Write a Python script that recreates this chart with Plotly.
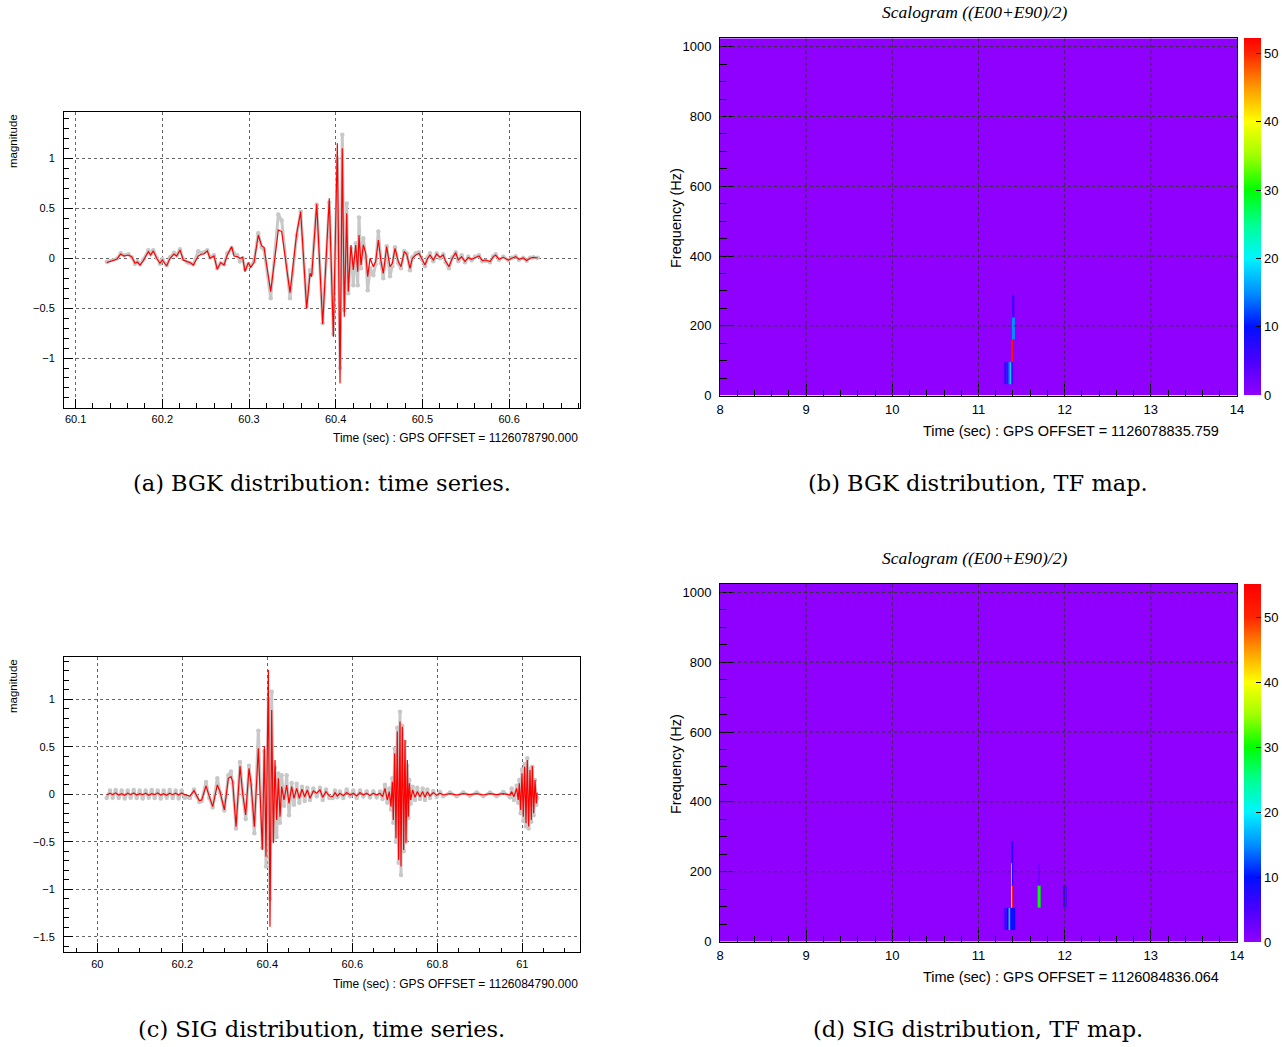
import plotly.graph_objects as go

W, H = 1282, 1047

# ---------------- (a) BGK time series ----------------
A_T = [60.1359, 60.1474, 60.1520, 60.1558, 60.1608, 60.1647, 60.1685, 60.1712, 60.1743, 60.1781,
       60.1839, 60.1866, 60.1896, 60.1935, 60.1973, 60.2000, 60.2050, 60.2089, 60.2135, 60.2166,
       60.2204, 60.2242, 60.2288, 60.2320, 60.2358, 60.2415, 60.2454, 60.2481, 60.2519, 60.2550,
       60.2596, 60.2634, 60.2673, 60.2712, 60.2750, 60.2800, 60.2827, 60.2865, 60.2896, 60.2927,
       60.2954, 60.2992, 60.3019, 60.3058, 60.3107, 60.3146, 60.3173, 60.3250, 60.3338, 60.3377,
       60.3473, 60.3550, 60.3596, 60.3665, 60.3704, 60.3723, 60.3781, 60.3850, 60.3926, 60.3973,
       60.4019, 60.4050, 60.4076, 60.4099, 60.4127, 60.4145, 60.4176, 60.4203, 60.4231, 60.4254,
       60.4269, 60.4292, 60.4319, 60.4346, 60.4369, 60.4396, 60.4434, 60.4461, 60.4492, 60.4523,
       60.4549, 60.4588, 60.4626, 60.4653, 60.4684, 60.4722, 60.4753, 60.4791, 60.4819, 60.4857,
       60.4884, 60.4923, 60.4961, 60.4992, 60.5030, 60.5061, 60.5088, 60.5126, 60.5165, 60.5203,
       60.5241, 60.5269, 60.5307, 60.5345, 60.5384, 60.5414, 60.5453, 60.5491, 60.5529, 60.5568,
       60.5607, 60.5653, 60.5691, 60.5730, 60.5780, 60.5818, 60.5845, 60.5884, 60.5933, 60.5991,
       60.6030, 60.6076, 60.6114, 60.6164, 60.6203, 60.6241, 60.6279, 60.6330]

A_RED = [-0.043, -0.010, 0.043, 0.023, 0.033, 0.017, -0.050, -0.037, -0.067, -0.023,
         0.067, 0.033, 0.074, 0.000, -0.050, -0.017, -0.077, 0.000, 0.043, 0.023,
         0.084, -0.017, -0.033, -0.043, -0.067, 0.023, 0.043, 0.043, 0.074, 0.000,
         0.023, -0.110, -0.043, -0.067, 0.033, 0.117, 0.023, 0.017, 0.000, 0.010,
         -0.134, -0.043, -0.090, -0.043, 0.234, 0.124, 0.110, -0.334, 0.284, 0.268,
         -0.344, 0.251, 0.468, -0.502, -0.151, -0.184, 0.545, -0.659, 0.602, -0.786,
         1.154, -1.254, 1.104, -0.585, 0.452, -0.334, 0.134, -0.117, 0.134, -0.134,
         0.234, -0.067, 0.134, 0.050, -0.184, 0.000, -0.084, -0.033, 0.184, -0.033,
         -0.151, 0.117, -0.084, -0.050, 0.100, -0.033, -0.084, 0.067, 0.043, -0.100,
         0.000, 0.033, 0.050, 0.000, -0.067, 0.000, 0.033, -0.017, 0.043, 0.010,
         0.033, -0.033, -0.084, 0.000, 0.057, -0.017, 0.017, -0.033, 0.007, -0.010,
         0.007, 0.023, -0.023, -0.017, -0.033, 0.017, 0.033, -0.010, 0.010, -0.017,
         0.000, 0.017, -0.010, 0.003, -0.023, 0.000, 0.010, 0.003]

A_GRAY = [-0.035, -0.005, 0.050, 0.030, 0.040, 0.010, -0.055, -0.030, -0.060, -0.015,
          0.080, 0.040, 0.080, 0.005, -0.055, -0.010, -0.070, 0.010, 0.055, 0.030,
          0.090, -0.010, -0.040, -0.050, -0.060, 0.070, 0.050, 0.060, 0.080, 0.010,
          0.030, -0.100, -0.050, -0.060, 0.050, 0.100, 0.050, 0.030, -0.030, 0.000,
          -0.110, -0.060, -0.080, -0.030, 0.250, 0.110, 0.090, -0.400, 0.440, 0.380,
          -0.400, 0.230, 0.470, -0.480, -0.120, -0.150, 0.540, -0.650, 0.560, -0.760,
          1.000, -1.100, 1.240, -0.520, 0.550, -0.350, 0.100, -0.270, 0.150, -0.270,
          0.410, -0.100, 0.200, 0.020, -0.320, -0.100, -0.170, -0.060, 0.270, -0.050,
          -0.200, 0.120, -0.180, -0.080, 0.110, -0.050, -0.100, 0.070, 0.050, -0.120,
          0.010, 0.050, 0.060, -0.010, -0.080, 0.010, 0.050, -0.030, 0.050, 0.000,
          0.040, -0.040, -0.100, 0.010, 0.060, -0.030, 0.030, -0.040, 0.015, -0.020,
          0.015, 0.030, -0.030, -0.025, -0.040, 0.020, 0.040, -0.015, 0.015, -0.020,
          0.005, 0.020, -0.015, 0.005, -0.025, 0.005, 0.010, 0.005]

# ---------------- (c) SIG time series ----------------
C_T = [60.0220, 60.0299, 60.0362, 60.0432, 60.0503, 60.0573, 60.0644, 60.0714, 60.0785, 60.0856,
       60.0926, 60.0997, 60.1067, 60.1138, 60.1209, 60.1279, 60.1350, 60.1420, 60.1491, 60.1562,
       60.1632, 60.1703, 60.1773, 60.1844, 60.1915, 60.1985, 60.2056,
       60.2103, 60.2181, 60.2275, 60.2338, 60.2401, 60.2456, 60.2558, 60.2636, 60.2715, 60.2824,
       60.2887, 60.2989, 60.3083, 60.3146, 60.3185, 60.3264, 60.3358, 60.3420, 60.3491, 60.3569,
       60.3617, 60.3695, 60.3789, 60.3883, 60.3930, 60.3969, 60.4024, 60.4063, 60.4103, 60.4142,
       60.4181, 60.4220, 60.4260, 60.4299, 60.4338, 60.4393, 60.4456, 60.4511, 60.4573, 60.4628,
       60.4691, 60.4754, 60.4816, 60.4879, 60.4942, 60.5005, 60.5083, 60.5162, 60.5240, 60.5303,
       60.5381, 60.5460,
       60.5538, 60.5593, 60.5648, 60.5710, 60.5789, 60.5867, 60.5946, 60.6024, 60.6102, 60.6181,
       60.6259, 60.6338, 60.6416, 60.6495, 60.6573, 60.6651, 60.6714, 60.6769, 60.6824, 60.6871,
       60.6910, 60.6942, 60.6965, 60.6997, 60.7028, 60.7059, 60.7091, 60.7122, 60.7146, 60.7177,
       60.7208, 60.7240, 60.7263, 60.7295, 60.7318, 60.7342, 60.7373, 60.7420, 60.7475, 60.7530,
       60.7593, 60.7655, 60.7710, 60.7765, 60.7828, 60.7906, 60.7985, 60.8063, 60.8142, 60.8298,
       60.8455, 60.8612, 60.8769, 60.8926, 60.9083, 60.9240, 60.9397, 60.9553, 60.9710, 60.9750,
       60.9804, 60.9867, 60.9906, 60.9930, 60.9961, 60.9993, 61.0024, 61.0055, 61.0087, 61.0118,
       61.0150, 61.0181, 61.0212, 61.0236, 61.0267, 61.0299, 61.0330, 61.0353]

C_RED = [-0.007, 0.011, -0.004, 0.014, -0.007, 0.007, -0.011, 0.011, -0.004, 0.014,
         -0.007, 0.007, -0.004, 0.011, -0.011, 0.007, -0.004, 0.014, -0.007, 0.007,
         -0.011, 0.011, -0.004, 0.011, -0.007, 0.014, -0.004,
         -0.007, -0.018, 0.039, -0.007, -0.067, -0.060, 0.088, -0.025, -0.130, 0.098,
         0.028, -0.165, 0.168, 0.186, 0.133, -0.340, 0.298, 0.011, -0.218, 0.274,
         0.116, -0.340, 0.484, -0.586, 0.509, -0.656, 1.309, -1.393, 0.888, -0.516,
         0.361, -0.270, 0.168, -0.235, 0.081, -0.060, 0.098, -0.095, 0.081, -0.042,
         0.063, -0.042, 0.053, -0.025, 0.046, -0.042, 0.035, 0.011, 0.046, -0.032,
         0.028, -0.018,
         -0.025, 0.018, -0.018, 0.011, -0.014, 0.018, -0.007, 0.011, -0.018, 0.018,
         -0.007, 0.011, -0.014, 0.011, -0.007, 0.011, -0.025, 0.063, -0.060, 0.028,
         -0.130, 0.133, -0.270, 0.432, -0.463, 0.660, -0.691, 0.765, -0.761, 0.712,
         -0.586, 0.572, -0.516, 0.361, -0.235, 0.116, -0.060, 0.046, -0.032, 0.028,
         -0.025, 0.028, -0.032, 0.025, -0.018, 0.018, -0.011, 0.011, -0.007, 0.007,
         -0.007, 0.007, -0.004, 0.007, -0.007, 0.007, -0.004, 0.007, -0.007, 0.028,
         -0.025, 0.063, -0.060, 0.116, -0.165, 0.221, -0.235, 0.291, -0.305, 0.361,
         -0.340, 0.256, -0.270, 0.298, -0.200, 0.151, -0.095, 0.018]

C_GRAY = [-0.040, 0.040, -0.035, 0.045, -0.040, 0.040, -0.045, 0.040, -0.035, 0.045,
          -0.040, 0.040, -0.045, 0.040, -0.035, 0.045, -0.040, 0.040, -0.045, 0.040,
          -0.035, 0.045, -0.040, 0.040, -0.045, 0.040, -0.035,
          -0.030, -0.040, 0.050, -0.020, -0.080, -0.070, 0.130, -0.040, -0.140, 0.170,
          0.020, -0.170, 0.200, 0.240, 0.120, -0.360, 0.340, 0.000, -0.260, 0.300,
          0.100, -0.410, 0.670, -0.560, 0.450, -0.760, 1.000, -1.100, 1.080, -0.480,
          0.280, -0.450, 0.220, -0.300, 0.200, -0.120, 0.200, -0.220, 0.120, -0.110,
          0.110, -0.090, 0.080, -0.070, 0.070, -0.060, 0.060, -0.020, 0.070, -0.060,
          0.050, -0.040,
          -0.040, 0.040, -0.030, 0.030, -0.040, 0.050, -0.020, 0.040, -0.040, 0.040,
          -0.020, 0.030, -0.030, 0.030, -0.030, 0.030, -0.050, 0.100, -0.090, 0.060,
          -0.160, 0.170, -0.300, 0.480, -0.500, 0.700, -0.720, 0.870, -0.850, 0.720,
          -0.600, 0.550, -0.480, 0.300, -0.250, 0.150, -0.100, 0.080, -0.060, 0.070,
          -0.050, 0.060, -0.060, 0.050, -0.040, 0.035, -0.025, 0.025, -0.020, 0.020,
          -0.020, 0.020, -0.015, 0.020, -0.020, 0.020, -0.020, 0.025, -0.030, 0.060,
          -0.060, 0.090, -0.090, 0.150, -0.200, 0.260, -0.280, 0.320, -0.340, 0.380,
          -0.360, 0.270, -0.290, 0.290, -0.220, 0.150, -0.110, -0.040]

# ---------------- (b) BGK TF map: non-zero cells ----------------
B_T0 = [11.299, 11.326, 11.349, 11.369, 11.384, 11.380, 11.388, 11.392]
B_T1 = [11.326, 11.349, 11.369, 11.384, 11.395, 11.403, 11.419, 11.415]
B_F0 = [32, 32, 32, 32, 32, 96, 160, 224]
B_F1 = [96, 96, 96, 96, 96, 160, 224, 288]
B_V = [7, 11, 15, 22, 10, 51, 15, 7]

# ---------------- (d) SIG TF map: non-zero cells ----------------
D_T0 = [11.299, 11.326, 11.349, 11.369, 11.377, 11.388, 11.377, 11.390, 11.380, 11.686, 11.690, 11.981, 11.995, 12.012]
D_T1 = [11.326, 11.349, 11.369, 11.423, 11.388, 11.400, 11.390, 11.407, 11.407, 11.717, 11.712, 11.995, 12.012, 12.023]
D_F0 = [32, 32, 32, 32, 96, 96, 160, 160, 224, 96, 160, 96, 96, 96]
D_F1 = [96, 96, 96, 96, 160, 160, 224, 224, 288, 160, 224, 160, 160, 160]
D_V = [6, 10, 18, 9, 35, 50, 22, 8, 7, 30, 2, 5, 9, 5]

# palette (value -> colour)
PAL_V = [0, 5, 10, 15, 20, 25, 30, 35, 40, 45, 50, 55]
PAL_C = ["#9000FF", "#4A00FF", "#0010FF", "#0090FF", "#00F5FF", "#00FF90", "#00FF00",
         "#A0FF00", "#FFFF00", "#FF9800", "#FF2400", "#FF0000"]
B_ZMAX = 52.2
D_ZMAX = 55.1
CB_TICKS = [0, 10, 20, 30, 40, 50]

TF_XRANGE = [8, 14]
TF_YRANGE = [0, 1024]
A_XRANGE = [60.0866, 60.6818]
A_YRANGE = [-1.497, 1.470]
C_XRANGE = [59.9216, 61.1358]
C_YRANGE = [-1.663, 1.442]

TF_XGRID = [9, 10, 11, 12, 13]
TF_YGRID = [200, 400, 600, 800, 1000]


def fx(px):
    return px / W


def fy(py):
    return 1 - py / H


SANS = "Liberation Sans, Arial, Helvetica, sans-serif"
SERIF = "DejaVu Serif, serif"

fig = go.Figure()

GRAY = "#C8C8C8"
for t, g, r, xa, ya in [(A_T, A_GRAY, A_RED, "x", "y"), (C_T, C_GRAY, C_RED, "x3", "y3")]:
    fig.add_trace(go.Scatter(x=t, y=g, mode="lines+markers", xaxis=xa, yaxis=ya,
                             line=dict(color=GRAY, width=3), marker=dict(color=GRAY, size=4.5),
                             showlegend=False, hoverinfo="skip"))
    fig.add_trace(go.Scatter(x=t, y=r, mode="lines", xaxis=xa, yaxis=ya,
                             line=dict(color="#FF0000", width=1.2),
                             showlegend=False, hoverinfo="skip"))


def palette(zmax):
    cs = [[v / zmax, c] for v, c in zip(PAL_V, PAL_C) if v <= zmax]
    if cs[-1][0] < 1:
        cs.append([1.0, PAL_C[-1]])
    return cs


for (t0s, t1s, f0s, f1s, vs, xa, ya, ca) in [
        (B_T0, B_T1, B_F0, B_F1, B_V, "x2", "y2", "coloraxis"),
        (D_T0, D_T1, D_F0, D_F1, D_V, "x4", "y4", "coloraxis2")]:
    fig.add_trace(go.Heatmap(x=TF_XRANGE, y=TF_YRANGE, z=[[0]], coloraxis=ca,
                             xaxis=xa, yaxis=ya, hoverinfo="skip"))
    for t0, t1, f0, f1, v in zip(t0s, t1s, f0s, f1s, vs):
        fig.add_trace(go.Heatmap(x=[t0, t1], y=[f0, f1], z=[[v]], coloraxis=ca,
                                 xaxis=xa, yaxis=ya, hoverinfo="skip"))


def ts_xaxis(dom, rng, dtick, tick0, minor_dtick, anchor):
    return dict(domain=dom, range=rng, anchor=anchor, dtick=dtick, tick0=tick0,
                ticks="inside", ticklen=9, tickcolor="black", tickwidth=1,
                minor=dict(dtick=minor_dtick, tick0=tick0, ticks="inside", ticklen=4.5,
                           tickcolor="black", showgrid=False),
                showline=True, linecolor="black", linewidth=1, mirror=True,
                showgrid=True, gridcolor="#666666", griddash="dot", gridwidth=1,
                zeroline=False, ticklabelstandoff=1,
                tickfont=dict(family=SANS, size=11, color="black"))


def ts_yaxis(dom, rng, anchor):
    return dict(domain=dom, range=rng, anchor=anchor, dtick=0.5, tick0=0,
                ticks="inside", ticklen=9, tickcolor="black", tickwidth=1,
                minor=dict(dtick=0.1, tick0=0, ticks="inside", ticklen=4.5,
                           tickcolor="black", showgrid=False),
                showline=True, linecolor="black", linewidth=1, mirror=True,
                showgrid=True, gridcolor="#666666", griddash="dot", gridwidth=1,
                zeroline=False, ticklabelstandoff=6,
                tickfont=dict(family=SANS, size=11, color="black"))


def tf_xaxis(dom, anchor):
    return dict(domain=dom, range=TF_XRANGE, anchor=anchor, dtick=1, tick0=8,
                ticks="inside", ticklen=12, tickcolor="black",
                minor=dict(dtick=0.2, tick0=8, ticks="inside", ticklen=6, tickcolor="black"),
                showline=True, linecolor="black", linewidth=1, mirror=True,
                showgrid=False, zeroline=False, layer="above traces", ticklabelstandoff=2,
                tickfont=dict(family=SANS, size=13, color="black"))


def tf_yaxis(dom, anchor):
    return dict(domain=dom, range=TF_YRANGE, anchor=anchor, dtick=200, tick0=0,
                ticks="inside", ticklen=14, tickcolor="black",
                minor=dict(dtick=50, tick0=0, ticks="inside", ticklen=7, tickcolor="black"),
                showline=True, linecolor="black", linewidth=1, mirror=True,
                showgrid=False, zeroline=False, layer="above traces", ticklabelstandoff=5,
                tickfont=dict(family=SANS, size=13, color="black"))


def colorbar(top, bottom):
    return dict(x=fx(1244), xanchor="left", xpad=0, y=fy(top), yanchor="top", ypad=0,
                len=bottom - top, lenmode="pixels", thickness=17, thicknessmode="pixels",
                outlinewidth=0, tickvals=CB_TICKS, ticks="inside", ticklen=5,
                tickcolor="black", tickfont=dict(family=SANS, size=13, color="black"))


fig.update_layout(
    width=W, height=H, autosize=False,
    margin=dict(l=0, r=0, t=0, b=0, pad=0, autoexpand=False),
    paper_bgcolor="white", plot_bgcolor="white",
    font=dict(family=SANS, color="black"),
    showlegend=False,
    xaxis=ts_xaxis([fx(64), fx(580)], A_XRANGE, 0.1, 60.1, 0.02, "y"),
    yaxis=ts_yaxis([fy(407.6), fy(111.7)], A_YRANGE, "x"),
    xaxis3=ts_xaxis([fx(64), fx(580)], C_XRANGE, 0.2, 60.0, 0.05, "y3"),
    yaxis3=ts_yaxis([fy(952.3), fy(657.3)], C_YRANGE, "x3"),
    xaxis2=tf_xaxis([fx(720), fx(1237)], "y2"),
    yaxis2=tf_yaxis([fy(395.7), fy(38.3)], "x2"),
    xaxis4=tf_xaxis([fx(720), fx(1237)], "y4"),
    yaxis4=tf_yaxis([fy(941.5), fy(584)], "x4"),
    coloraxis=dict(cmin=0, cmax=B_ZMAX, colorscale=palette(B_ZMAX), colorbar=colorbar(38.3, 395.7)),
    coloraxis2=dict(cmin=0, cmax=D_ZMAX, colorscale=palette(D_ZMAX), colorbar=colorbar(584, 941.5)),
)

# dotted grid drawn over the TF maps
shapes = []
for xa, ya in [("x2", "y2"), ("x4", "y4")]:
    for v in TF_XGRID:
        shapes.append(dict(type="line", xref=xa, yref=ya + " domain", x0=v, x1=v, y0=0, y1=1,
                           line=dict(color="#333333", width=1, dash="dot"), layer="above"))
    for v in TF_YGRID:
        shapes.append(dict(type="line", xref=xa + " domain", yref=ya, x0=0, x1=1, y0=v, y1=v,
                           line=dict(color="#333333", width=1, dash="dot"), layer="above"))
fig.update_layout(shapes=shapes)

ann = []
# axis titles
for txt, py in [("magnitude", 112), ("magnitude", 657)]:
    ann.append(dict(text=txt, x=fx(13), y=fy(py), xref="paper", yref="paper", textangle=-90,
                    xanchor="center", yanchor="top", showarrow=False,
                    font=dict(family=SANS, size=11.5, color="black")))
for txt, py in [("Time (sec) : GPS OFFSET = 1126078790.000", 438),
                ("Time (sec) : GPS OFFSET = 1126084790.000", 984)]:
    ann.append(dict(text=txt, x=fx(580), y=fy(py), xref="paper", yref="paper",
                    xanchor="right", yanchor="middle", showarrow=False,
                    font=dict(family=SANS, size=12, color="black")))
for txt, py in [("Time (sec) : GPS OFFSET = 1126078835.759", 431),
                ("Time (sec) : GPS OFFSET = 1126084836.064", 977)]:
    ann.append(dict(text=txt, x=fx(1221), y=fy(py), xref="paper", yref="paper",
                    xanchor="right", yanchor="middle", showarrow=False,
                    font=dict(family=SANS, size=14.5, color="black")))
for py in [218, 764]:
    ann.append(dict(text="Frequency (Hz)", x=fx(676), y=fy(py), xref="paper", yref="paper",
                    textangle=-90, xanchor="center", yanchor="middle", showarrow=False,
                    font=dict(family=SANS, size=14.5, color="black")))
for py in [12, 558]:
    ann.append(dict(text="<i>Scalogram ((E00+E90)/2)</i>", x=fx(974), y=fy(py), xref="paper",
                    yref="paper", xanchor="center", yanchor="middle", showarrow=False,
                    font=dict(family="Liberation Serif, Times New Roman, serif", size=17.5,
                              color="black")))
# captions
for txt, px, py in [("(a) BGK distribution: time series.", 322, 483),
                    ("(b) BGK distribution, TF map.", 978, 483),
                    ("(c) SIG distribution, time series.", 322, 1029),
                    ("(d) SIG distribution, TF map.", 978, 1029)]:
    ann.append(dict(text=txt, x=fx(px), y=fy(py), xref="paper", yref="paper",
                    xanchor="center", yanchor="middle", showarrow=False,
                    font=dict(family=SERIF, size=22.5, color="black")))
fig.update_layout(annotations=ann)

fig.write_html("out.html")
